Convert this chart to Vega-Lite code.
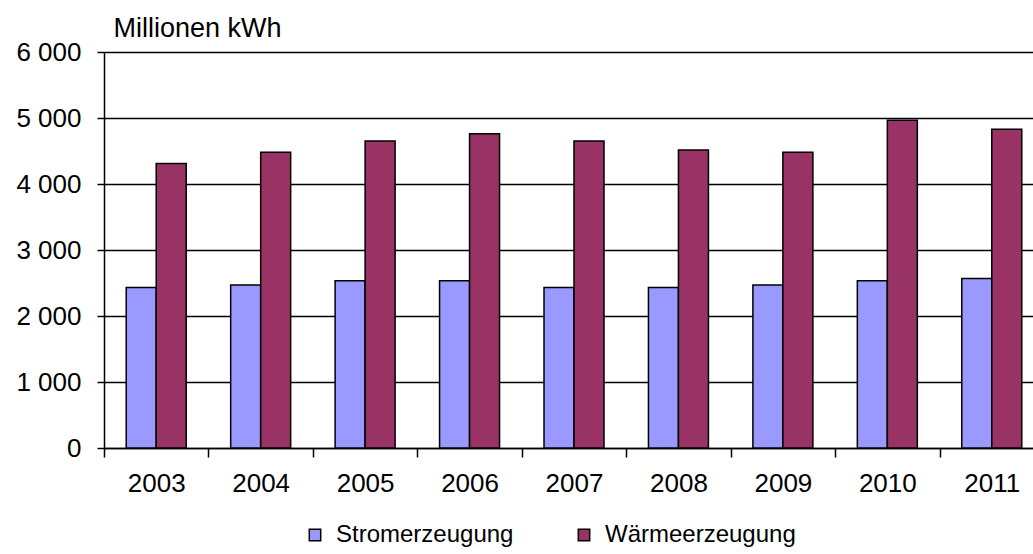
{
  "$schema": "https://vega.github.io/schema/vega-lite/v6.json",
  "autosize": {"type": "none"},
  "padding": {"left": 104, "top": 52, "right": 0, "bottom": 106},
  "width": 929,
  "height": 396,
  "background": "white",
  "config": {
    "view": {"stroke": null},
    "font": "Liberation Sans",
    "axis": {"labelFont": "Liberation Sans", "titleFont": "Liberation Sans", "labelColor": "black", "titleColor": "black"},
    "legend": {"labelFont": "Liberation Sans"}
  },
  "data": {
    "values": [
      {"Jahr": "2003", "Art": "Stromerzeugung", "Wert": 2430},
      {"Jahr": "2003", "Art": "Wärmeerzeugung", "Wert": 4310},
      {"Jahr": "2004", "Art": "Stromerzeugung", "Wert": 2470},
      {"Jahr": "2004", "Art": "Wärmeerzeugung", "Wert": 4480},
      {"Jahr": "2005", "Art": "Stromerzeugung", "Wert": 2535},
      {"Jahr": "2005", "Art": "Wärmeerzeugung", "Wert": 4650},
      {"Jahr": "2006", "Art": "Stromerzeugung", "Wert": 2535},
      {"Jahr": "2006", "Art": "Wärmeerzeugung", "Wert": 4760},
      {"Jahr": "2007", "Art": "Stromerzeugung", "Wert": 2430},
      {"Jahr": "2007", "Art": "Wärmeerzeugung", "Wert": 4650},
      {"Jahr": "2008", "Art": "Stromerzeugung", "Wert": 2430},
      {"Jahr": "2008", "Art": "Wärmeerzeugung", "Wert": 4515},
      {"Jahr": "2009", "Art": "Stromerzeugung", "Wert": 2470},
      {"Jahr": "2009", "Art": "Wärmeerzeugung", "Wert": 4480},
      {"Jahr": "2010", "Art": "Stromerzeugung", "Wert": 2535},
      {"Jahr": "2010", "Art": "Wärmeerzeugung", "Wert": 4965},
      {"Jahr": "2011", "Art": "Stromerzeugung", "Wert": 2570},
      {"Jahr": "2011", "Art": "Wärmeerzeugung", "Wert": 4830}
    ]
  },
  "mark": {"type": "bar", "stroke": "black", "strokeWidth": 1.5},
  "encoding": {
    "x": {
      "field": "Jahr",
      "type": "nominal",
      "scale": {"type": "band", "paddingInner": 0, "paddingOuter": 0, "range": [0, 940]},
      "axis": {
        "title": null,
        "labelAngle": 0,
        "labelFontSize": 26,
        "labelPadding": 13,
        "tickBand": "extent",
        "ticks": true,
        "tickSize": 9,
        "tickColor": "black",
        "tickWidth": 1.5,
        "domainColor": "black",
        "domainWidth": 1.5,
        "grid": false
      }
    },
    "xOffset": {
      "field": "Art",
      "type": "nominal",
      "scale": {"paddingInner": 0, "paddingOuter": 0.741}
    },
    "y": {
      "field": "Wert",
      "type": "quantitative",
      "scale": {"domain": [0, 6000], "nice": false},
      "axis": {
        "values": [0, 1000, 2000, 3000, 4000, 5000, 6000],
        "labelExpr": "replace(format(datum.value, ','), ',', ' ')",
        "labelFontSize": 26,
        "labelPadding": 16,
        "tickSize": 7,
        "tickColor": "black",
        "tickWidth": 1.5,
        "domainColor": "black",
        "domainWidth": 1.5,
        "grid": true,
        "gridColor": "black",
        "gridWidth": 1.6,
        "gridOpacity": 1,
        "title": "Millionen  kWh",
        "titleAngle": 0,
        "titleAlign": "left",
        "titleBaseline": "alphabetic",
        "titleFontWeight": "normal",
        "titleFontSize": 27,
        "titleX": 9,
        "titleY": -16
      }
    },
    "color": {
      "field": "Art",
      "type": "nominal",
      "scale": {"domain": ["Stromerzeugung", "Wärmeerzeugung"], "range": ["#9999FF", "#993366"]},
      "legend": {
        "title": null,
        "orient": "none",
        "direction": "horizontal",
        "legendX": 199,
        "legendY": 471,
        "symbolType": "square",
        "symbolSize": 130,
        "symbolStrokeColor": "black",
        "symbolStrokeWidth": 1.5,
        "symbolOpacity": 1,
        "labelFontSize": 24,
        "labelLimit": 0,
        "labelColor": "black",
        "labelOffset": 9,
        "columnPadding": 58
      }
    }
  }
}
